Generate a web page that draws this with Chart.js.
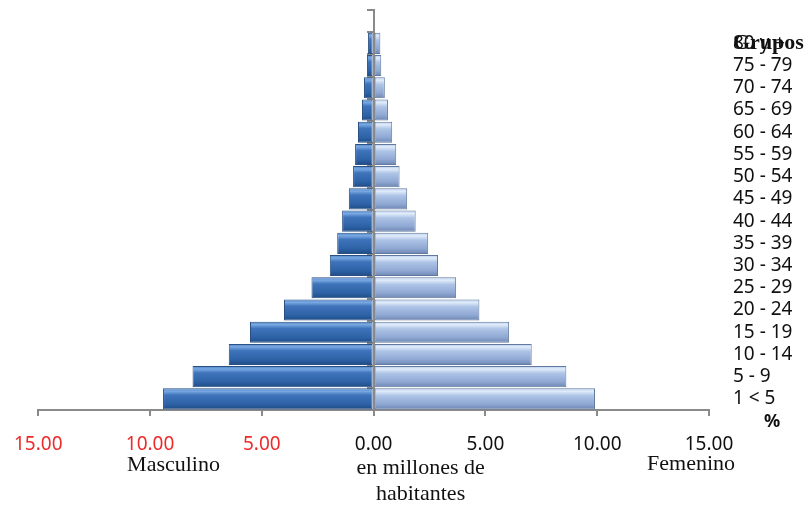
<!DOCTYPE html>
<html lang="es">
<head>
    <meta charset="UTF-8" />
    <title>Pirámide de población</title>
    <script src="https://cdn.jsdelivr.net/npm/chart.js"></script>
    <style>
        html, body { margin: 0; padding: 0; background: #fff; }
        #wrap { width: 809px; height: 508px; position: relative; }
    </style>
</head>
<body>
<div id="wrap"><canvas id="pyramid"></canvas></div>

<script>
    // grupos de edad, de arriba hacia abajo (la primera fila queda vacía)
    const grupos = ['', '80 y +', '75 - 79', '70 - 74', '65 - 69', '60 - 64', '55 - 59', '50 - 54',
        '45 - 49', '40 - 44', '35 - 39', '30 - 34', '25 - 29', '20 - 24', '15 - 19', '10 - 14', '5 - 9', '1 < 5'];
    // millones de habitantes
    const masculino = [null, 0.25, 0.30, 0.43, 0.52, 0.70, 0.83, 0.92, 1.11, 1.41, 1.63, 1.96, 2.78, 4.01, 5.53, 6.48, 8.10, 9.42];
    const femenino  = [null, 0.30, 0.34, 0.50, 0.64, 0.83, 1.01, 1.16, 1.50, 1.88, 2.44, 2.88, 3.69, 4.73, 6.06, 7.07, 8.62, 9.90];
    const ticksX = [-15, -10, -5, 0, 5, 10, 15];

    const GRIS = '#8a8a8a';
    const BAR_PCT = 0.95;

    // degradado vertical por barra (efecto biselado)
    function barGradient(stops, fallback) {
        return function (ctx) {
            const chart = ctx.chart;
            const y = chart.scales.y;
            if (ctx.type !== 'data' || !chart.chartArea || !y) return fallback;
            const step = Math.abs(y.getPixelForValue(1) - y.getPixelForValue(0));
            const yc = y.getPixelForValue(ctx.dataIndex);
            const h = step * BAR_PCT / 2;
            const g = chart.ctx.createLinearGradient(0, yc - h, 0, yc + h);
            stops.forEach(s => g.addColorStop(s[0], s[1]));
            return g;
        };
    }

    const azulM = barGradient([[0, '#4f84c8'], [0.14, '#79a8e2'], [0.32, '#3f74bb'], [0.75, '#2d62a6'], [1, '#1f4b84']], '#2f66ad');
    const azulF = barGradient([[0, '#b3c8ea'], [0.14, '#e0ecfa'], [0.35, '#adc3e6'], [0.75, '#8fa8d3'], [1, '#6c85b1']], '#9cb3dd');

    // textos fijos alrededor del gráfico
    const textos = {
        id: 'textos',
        afterDraw(chart) {
            const c = chart.ctx;
            const x = chart.scales.x;
            const y2 = chart.scales.y2;
            const base = chart.chartArea.bottom;
            c.save();
            c.fillStyle = '#111';
            c.textAlign = 'center';
            c.textBaseline = 'alphabetic';
            c.font = '22px "Liberation Serif", serif';
            c.fillText('Masculino', x.getPixelForValue(-8.95), base + 61);
            c.fillText('Femenino', x.getPixelForValue(14.2), base + 60);
            c.fillText('en millones de', x.getPixelForValue(2.1), base + 64);
            c.fillText('habitantes', x.getPixelForValue(2.1), base + 90);
            // encabezado de grupos, encima de la primera etiqueta
            c.textAlign = 'left';
            c.textBaseline = 'middle';
            c.font = 'bold 22px "Liberation Serif", serif';
            c.fillText('Grupos', chart.chartArea.right + 24, y2.getPixelForValue(1));
            c.textAlign = 'center';
            c.font = 'bold 18px "Noto Sans", sans-serif';
            c.fillText('%', 772, base + 12);
            c.restore();
        }
    };

    Chart.defaults.font.family = '"Noto Sans", sans-serif';

    new Chart(document.getElementById('pyramid').getContext('2d'), {
        type: 'bar',
        data: {
            labels: grupos,
            datasets: [
                {
                    label: 'Masculino',
                    data: masculino.map(v => v === null ? null : -v),
                    backgroundColor: azulM,
                    borderColor: '#2a4f82',
                    borderWidth: 1,
                    borderSkipped: false,
                    barPercentage: BAR_PCT,
                    categoryPercentage: 1
                },
                {
                    label: 'Femenino',
                    data: femenino,
                    backgroundColor: azulF,
                    borderColor: '#62799f',
                    borderWidth: 1,
                    borderSkipped: false,
                    barPercentage: BAR_PCT,
                    categoryPercentage: 1
                }
            ]
        },
        options: {
            indexAxis: 'y',
            responsive: true,
            maintainAspectRatio: false,
            animation: false,
            layout: { padding: { top: 10, left: 37, right: 0, bottom: 0 } },
            plugins: {
                legend: { display: false },
                tooltip: { enabled: false }
            },
            scales: {
                x: {
                    type: 'linear',
                    stacked: true,
                    min: -15,
                    max: 15,
                    afterBuildTicks: s => { s.ticks = ticksX.map(v => ({ value: v })); },
                    afterFit: s => { s.height = 98; },
                    grid: { drawOnChartArea: false, drawTicks: true, tickLength: 6, color: GRIS, lineWidth: 2 },
                    border: { display: true, color: GRIS, width: 2 },
                    ticks: {
                        padding: 14,
                        font: { size: 19, lineHeight: 1.5 },
                        color: ctx => ctx.tick && ctx.tick.value < 0 ? '#ee2b2b' : '#111',
                        callback: v => Math.abs(v).toFixed(2)
                    }
                },
                y: {
                    type: 'category',
                    stacked: true,
                    offset: true,
                    position: { x: 0 },
                    grid: { offset: true, drawOnChartArea: false, drawTicks: true, tickLength: 6, color: GRIS, lineWidth: 2 },
                    border: { display: true, color: GRIS, width: 2 },
                    ticks: { display: false }
                },
                y2: {
                    type: 'category',
                    labels: grupos,
                    offset: true,
                    position: 'right',
                    afterFit: s => { s.width = 100; },
                    grid: { display: true, drawOnChartArea: false, drawTicks: true, tickLength: 24, tickColor: 'rgba(0,0,0,0)' },
                    border: { display: false },
                    ticks: {
                        padding: 0,
                        autoSkip: false,
                        font: { size: 19, lineHeight: 1 },
                        color: '#111',
                        crossAlign: 'near'
                    }
                }
            }
        },
        plugins: [textos]
    });
</script>
</body>
</html>
